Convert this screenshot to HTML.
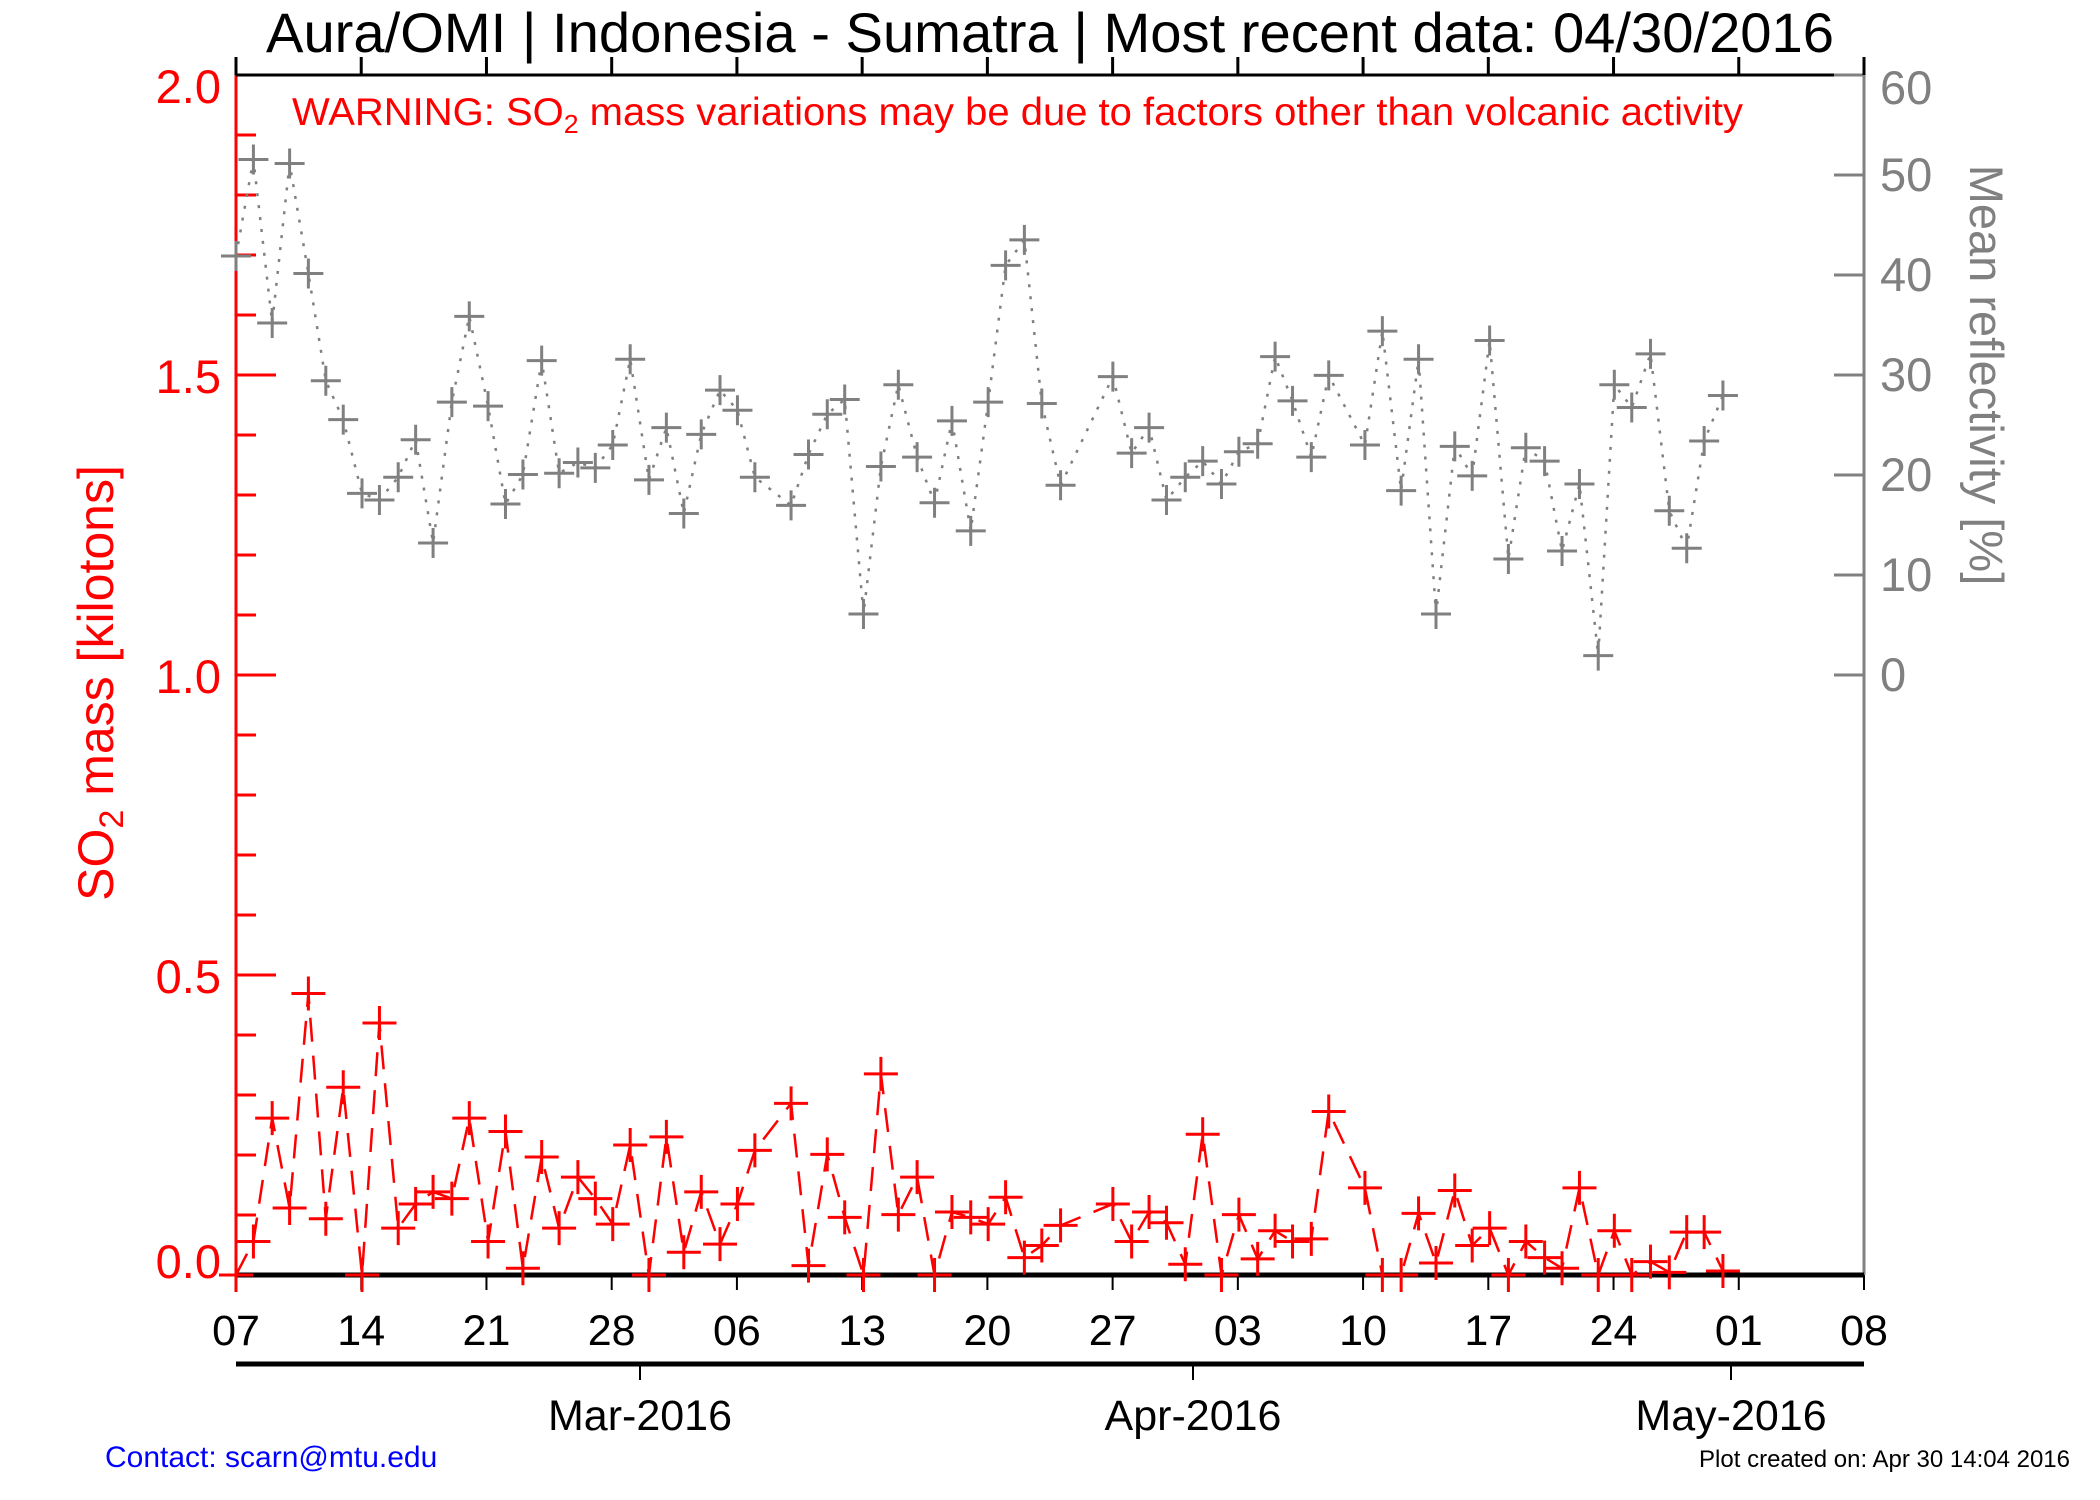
<!DOCTYPE html>
<html><head><meta charset="utf-8"><style>html,body{margin:0;padding:0;background:#fff}svg{display:block}</style></head>
<body>
<svg id="s" xmlns="http://www.w3.org/2000/svg" width="2100" height="1500" viewBox="0 0 2100 1500" font-family="Liberation Sans, Arial, sans-serif">
<rect width="2100" height="1500" fill="#fff"/>
<text x="1050" y="52" font-size="56" text-anchor="middle" textLength="1568" lengthAdjust="spacingAndGlyphs">Aura/OMI | Indonesia - Sumatra | Most recent data: 04/30/2016</text>
<text x="292" y="125" font-size="39" fill="#ff0000" textLength="1451" lengthAdjust="spacingAndGlyphs">WARNING: SO<tspan font-size="26" dy="8">2</tspan><tspan dy="-8"> mass variations may be due to factors other than volcanic activity</tspan></text>
<g id="axes"></g>
<g id="data"></g>
<g font-size="47" fill="#ff0000" text-anchor="end">
<text x="221" y="103">2.0</text><text x="221" y="393">1.5</text><text x="221" y="693">1.0</text><text x="221" y="993">0.5</text><text x="221" y="1278">0.0</text>
</g>
<g font-size="47" fill="#808080">
<text x="1880" y="104">60</text><text x="1880" y="191">50</text><text x="1880" y="291">40</text><text x="1880" y="391">30</text><text x="1880" y="491">20</text><text x="1880" y="591">10</text><text x="1880" y="691">0</text>
</g>
<text transform="translate(113,683) rotate(-90)" font-size="50" fill="#ff0000" text-anchor="middle">SO<tspan font-size="34" dy="10">2</tspan><tspan dy="-10"> mass [kilotons]</tspan></text>
<text transform="translate(1970,375) rotate(90)" font-size="47" fill="#808080" text-anchor="middle">Mean reflectivity [%]</text>
<g font-size="43" text-anchor="middle" id="days"></g>
<g font-size="43" text-anchor="middle">
<text x="640" y="1430">Mar-2016</text><text x="1193" y="1430">Apr-2016</text><text x="1731" y="1430">May-2016</text>
</g>
<text x="105" y="1467" font-size="30" fill="#0000ff">Contact: scarn@mtu.edu</text>
<text x="2070" y="1467" font-size="24" text-anchor="end">Plot created on: Apr 30 14:04 2016</text>
</svg>
<script>
var NS="http://www.w3.org/2000/svg";
function el(p,t,a){var e=document.createElementNS(NS,t);for(var k in a)e.setAttribute(k,a[k]);p.appendChild(e);return e;}
var ax=document.getElementById("axes"),dg=document.getElementById("data");
var L=236,R=1864,T=75,B=1275;
el(ax,"line",{x1:L,y1:T,x2:L,y2:B,stroke:"#f00","stroke-width":3});
for(var i=0;i<=20;i++){var y=B-i*60;var len=(i%5==0)?40:20;el(ax,"line",{x1:L,y1:y,x2:L+len,y2:y,stroke:"#f00","stroke-width":3});}
el(ax,"line",{x1:R,y1:T,x2:R,y2:B,stroke:"#808080","stroke-width":3});
for(var i=0;i<=6;i++){var y=675-i*100;el(ax,"line",{x1:R-30,y1:y,x2:R,y2:y,stroke:"#808080","stroke-width":3});}
el(ax,"line",{x1:L,y1:T,x2:R-30,y2:T,stroke:"#000","stroke-width":3});
el(ax,"line",{x1:L,y1:B,x2:R,y2:B,stroke:"#000","stroke-width":5});
var dl=["07","14","21","28","06","13","20","27","03","10","17","24","01","08"];
var dd=document.getElementById("days");
for(var i=0;i<=13;i++){var x=L+i*(R-L)/13;
 el(ax,"line",{x1:x,y1:T,x2:x,y2:T-18,stroke:"#000","stroke-width":3});
 el(ax,"line",{x1:x,y1:B,x2:x,y2:B+15,stroke:"#000","stroke-width":2});
 var t=el(dd,"text",{x:x,y:1345});t.textContent=dl[i];}
el(ax,"line",{x1:L,y1:1364,x2:R,y2:1364,stroke:"#000","stroke-width":5});
[640,1193,1731].forEach(function(x){el(ax,"line",{x1:x,y1:1364,x2:x,y2:1380,stroke:"#000","stroke-width":2});});
function X(x){return x*1.3408;}
function Y(y){return 75+(y-55)*1.3408;}
var g=[[176,190],[189,118],[203,240],[216,121],[230,203],[243,283],[256,312],[270,367],[283,372],[297,355],[310,327],[323,404],[337,299],[350,235],[364,302],[377,375],[390,353],[404,268],[417,352],[431,344],[444,348],[457,331],[470,267],[484,357],[497,318],[510,382],[523,323],[537,290],[550,305],[563,355],[590,376],[603,338],[617,308],[630,297],[644,457],[657,347],[670,286],[684,340],[697,374],[710,313],[724,395],[737,299],[750,197],[764,178],[777,300],[791,361],[830,280],[844,337],[857,318],[870,372],[884,355],[897,343],[911,360],[924,336],[938,330],[951,265],[964,298],[978,340],[991,279],[1018,331],[1031,246],[1045,365],[1058,267],[1071,457],[1085,332],[1098,354],[1111,253],[1125,416],[1138,333],[1152,343],[1165,410],[1178,360],[1192,488],[1204,286],[1217,303],[1231,263],[1245,380],[1258,408],[1271,328],[1285,294]];
var r=[[176,950],[189,925],[203,833],[216,900],[230,740],[243,908],[256,810],[270,950],[283,762],[297,915],[310,897],[323,888],[337,893],[350,833],[364,925],[377,843],[390,945],[404,862],[417,915],[431,877],[444,893],[457,912],[470,853],[484,950],[497,847],[510,933],[523,888],[537,927],[550,897],[563,857],[590,822],[603,943],[617,860],[630,907],[644,950],[657,800],[670,905],[684,877],[697,950],[710,903],[724,907],[737,912],[750,892],[764,937],[777,928],[791,913],[830,897],[844,925],[857,903],[870,911],[884,942],[897,845],[911,950],[924,905],[938,938],[951,917],[964,925],[978,923],[991,828],[1018,885],[1031,950],[1045,950],[1058,904],[1071,941],[1085,887],[1098,928],[1111,915],[1125,950],[1138,925],[1152,937],[1165,945],[1178,885],[1192,950],[1204,917],[1217,950],[1231,940],[1245,948],[1258,918],[1271,918],[1285,947]];
function series(d,col,dash,h,w){
 var pts=d.map(function(p){return X(p[0]).toFixed(1)+","+Y(p[1]).toFixed(1);}).join(" ");
 el(dg,"polyline",{points:pts,fill:"none",stroke:col,"stroke-width":w,"stroke-dasharray":dash});
 d.forEach(function(p){var x=X(p[0]),y=Y(p[1]);
  el(dg,"path",{d:"M"+(x-h)+" "+y+"H"+(x+h)+"M"+x+" "+(y-h)+"V"+(y+h),stroke:col,"stroke-width":3,fill:"none"});});
}
series(g,"#808080","3 9",15,2.5);
series(r,"#ff0000","24 14",17,2.5);
</script>
</body></html>
